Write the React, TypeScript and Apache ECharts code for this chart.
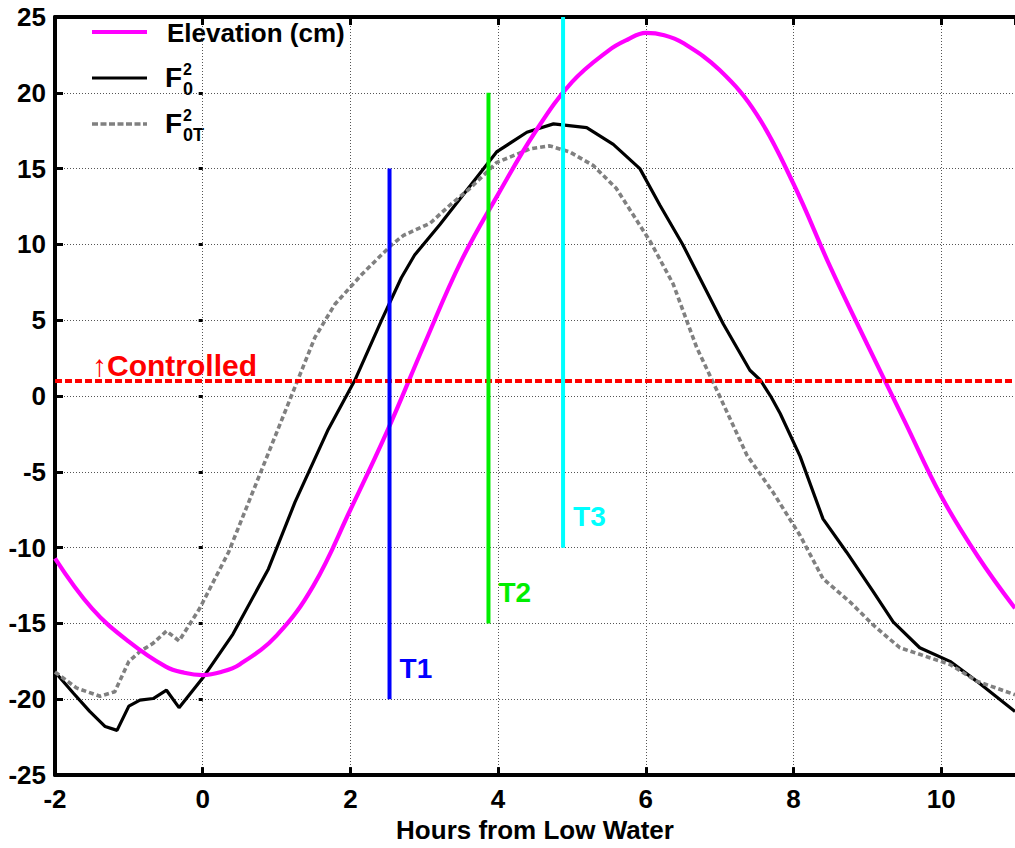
import React, { useEffect, useRef } from "react";
import * as echarts from "echarts";

// ---- Data ----
const xTicks = [-2, 0, 2, 4, 6, 8, 10];
const yTicks = [-25, -20, -15, -10, -5, 0, 5, 10, 15, 20, 25];

const elevX = [-2, -1.5, -1, -0.5, -0.25, 0, 0.25, 0.5, 1, 1.5, 2, 2.5, 3, 3.5, 4, 4.5, 5, 5.5, 5.75, 6, 6.25, 6.5, 7, 7.5, 8, 8.5, 9, 9.5, 10, 10.5, 11];
const elevY = [-10.7, -14.0, -16.2, -17.85, -18.25, -18.4, -18.2, -17.7, -15.8, -12.5, -7.5, -2.3, 3.4, 8.9, 13.3, 17.4, 20.7, 22.8, 23.5, 23.95, 23.8, 23.3, 21.5, 18.6, 14.0, 8.5, 3.4, -1.6, -6.6, -10.6, -14.0];

const f0X = [-2, -1.75, -1.53, -1.32, -1.16, -1.0, -0.85, -0.67, -0.49, -0.32, 0, 0.41, 0.89, 1.25, 1.7, 2.06, 2.42, 2.69, 2.87, 3.21, 3.53, 3.98, 4.39, 4.75, 5.2, 5.56, 5.92, 6.19, 6.5, 6.73, 7.05, 7.41, 7.55, 7.69, 7.82, 8.09, 8.4, 8.72, 9.08, 9.35, 9.71, 10.12, 10.48, 11];
const f0Y = [-18.2, -19.6, -20.8, -21.8, -22.05, -20.45, -20.06, -19.95, -19.4, -20.55, -18.6, -15.7, -11.4, -7.0, -2.2, 1.04, 4.97, 7.8, 9.3, 11.3, 13.3, 16.1, 17.4, 17.95, 17.7, 16.6, 15.0, 12.6, 10.0, 7.8, 4.75, 1.7, 1.06, 0, -1.15, -3.98, -8.1, -10.3, -12.9, -14.9, -16.6, -17.5, -18.8, -20.8];

const f0tX = [-2, -1.71, -1.39, -1.19, -1.0, -0.85, -0.67, -0.49, -0.32, -0.04, 0.35, 0.8, 1.25, 1.52, 1.79, 2.15, 2.56, 2.72, 3.08, 3.35, 3.62, 3.98, 4.43, 4.7, 4.97, 5.29, 5.6, 6.06, 6.37, 6.69, 7.0, 7.37, 7.73, 8.09, 8.4, 8.77, 9.08, 9.44, 10.12, 10.48, 11];
const f0tY = [-18.2, -19.25, -19.8, -19.5, -17.5, -16.85, -16.3, -15.5, -16.15, -14.0, -10.3, -4.85, 0.6, 3.87, 6.05, 8.0, 9.98, 10.6, 11.4, 12.6, 13.7, 15.4, 16.3, 16.5, 16.1, 15.2, 13.7, 10.2, 7.4, 3.2, 0, -3.9, -6.4, -9.2, -12.05, -13.6, -15.1, -16.6, -17.7, -18.8, -19.7];

const controlledLevel = 1;
const controlledX = [-2, 11];

const markerNames = ["T1", "T2", "T3"];
const markerX = [2.53, 3.87, 4.88];
const markerTop = [15, 20, 25];
const markerBottom = [-20, -15, -10];
const markerColors = ["#0000ff", "#00ee00", "#00ffff"];

const FONT = "'Liberation Sans', Arial, Helvetica, sans-serif";

function zip(xs: number[], ys: number[]) {
  return xs.map((x, i) => [x, ys[i]]);
}

export default function App() {
  const ref = useRef<HTMLDivElement>(null);

  useEffect(() => {
    if (!ref.current) return;
    const chart = echarts.init(ref.current, null, { renderer: "svg" });

    const markerSeries = markerNames.map((name, i) => ({
      name,
      type: "line",
      z: 5,
      symbol: "circle",
      symbolSize: 0,
      showSymbol: true,
      lineStyle: { color: markerColors[i], width: 4 },
      itemStyle: { color: markerColors[i] },
      data: [
        { value: [markerX[i], markerTop[i]] },
        {
          value: [markerX[i], markerBottom[i]],
          label: {
            show: true,
            formatter: name,
            position: "right",
            distance: 5,
            offset: [5, -31],
            color: markerColors[i],
            fontFamily: FONT,
            fontWeight: "bold",
            fontSize: 28,
          },
        },
      ],
    }));

    const option: any = {
      animation: false,
      textStyle: { fontFamily: FONT },
      grid: { left: 55, right: 0, top: 17, bottom: 67, containLabel: false },
      xAxis: [
        {
          type: "value",
          min: -2,
          max: 11,
          interval: 2,
          name: "Hours from Low Water",
          nameLocation: "middle",
          nameGap: 39,
          nameTextStyle: { fontFamily: FONT, fontWeight: "bold", fontSize: 26, color: "#000" },
          axisLine: { show: true, onZero: false, lineStyle: { color: "#000", width: 4 } },
          axisTick: { show: true, inside: true, length: 8, lineStyle: { color: "#000", width: 3 } },
          axisLabel: {
            show: true,
            margin: 11,
            fontFamily: FONT,
            fontWeight: "bold",
            fontSize: 26,
            color: "#000",
            showMaxLabel: false,
            formatter: (v: number) => (xTicks.indexOf(v) >= 0 ? String(v) : ""),
          },
          splitLine: { show: true, lineStyle: { color: "#555", width: 1, type: [1, 2] } },
        },
        {
          type: "value",
          position: "top",
          min: -2,
          max: 11,
          interval: 2,
          axisLine: { show: true, onZero: false, lineStyle: { color: "#000", width: 4 } },
          axisTick: { show: true, inside: true, length: 8, lineStyle: { color: "#000", width: 3 } },
          axisLabel: { show: false },
          splitLine: { show: false },
        },
      ],
      yAxis: [
        {
          type: "value",
          min: -25,
          max: 25,
          interval: 5,
          axisLine: { show: true, onZero: false, lineStyle: { color: "#000", width: 4 } },
          axisTick: { show: true, inside: true, length: 8, lineStyle: { color: "#000", width: 3 } },
          axisLabel: {
            show: true,
            margin: 9,
            fontFamily: FONT,
            fontWeight: "bold",
            fontSize: 26,
            color: "#000",
            formatter: (v: number) => (yTicks.indexOf(v) >= 0 ? String(v) : ""),
          },
          splitLine: { show: true, lineStyle: { color: "#555", width: 1, type: [1, 2] } },
        },
        {
          type: "value",
          position: "right",
          min: -25,
          max: 25,
          interval: 5,
          axisLine: { show: false },
          axisTick: { show: true, inside: true, length: 4, lineStyle: { color: "#000", width: 3 } },
          axisLabel: { show: false },
          splitLine: { show: false },
        },
      ],
      series: [
        {
          name: "F0^2",
          type: "line",
          z: 3,
          symbol: "none",
          lineStyle: { color: "#000", width: 3.2 },
          data: zip(f0X, f0Y),
        },
        {
          name: "F0T^2",
          type: "line",
          z: 3,
          symbol: "none",
          lineStyle: { color: "#808080", width: 3.6, type: [5, 3] },
          data: zip(f0tX, f0tY),
        },
        {
          name: "Elevation (cm)",
          type: "line",
          z: 3,
          symbol: "none",
          smooth: 0.4,
          lineStyle: { color: "#ff00ff", width: 4.2 },
          data: zip(elevX, elevY),
        },
        {
          name: "Controlled",
          type: "line",
          z: 4,
          symbol: "circle",
          symbolSize: 0,
          showSymbol: true,
          lineStyle: { color: "#ff0000", width: 4, type: [7, 3] },
          itemStyle: { color: "#ff0000" },
          data: [
            {
              value: [controlledX[0], controlledLevel],
              label: {
                show: true,
                formatter: "\u2191Controlled",
                position: "right",
                distance: 5,
                offset: [32, -15],
                color: "#ff0000",
                fontFamily: FONT,
                fontWeight: "bold",
                fontSize: 30,
              },
            },
            { value: [controlledX[1], controlledLevel] },
          ],
        },
        ...markerSeries,
      ],
      graphic: [
        { type: "line", shape: { x1: 92, y1: 32, x2: 147, y2: 32 }, style: { stroke: "#ff00ff", lineWidth: 4 } },
        {
          type: "text",
          x: 167,
          y: 33,
          style: { text: "Elevation (cm)", font: `bold 26px ${FONT}`, fill: "#000", verticalAlign: "middle" },
        },
        { type: "line", shape: { x1: 92, y1: 78, x2: 147, y2: 78 }, style: { stroke: "#000", lineWidth: 3.2 } },
        { type: "text", x: 165, y: 77, style: { text: "F", font: `bold 28px ${FONT}`, fill: "#000", verticalAlign: "middle" } },
        { type: "text", x: 183, y: 69.5, style: { text: "2", font: `bold 16px ${FONT}`, fill: "#000", verticalAlign: "middle" } },
        { type: "text", x: 183, y: 89, style: { text: "0", font: `bold 18px ${FONT}`, fill: "#000", verticalAlign: "middle" } },
        {
          type: "line",
          shape: { x1: 92, y1: 124, x2: 147, y2: 124 },
          style: { stroke: "#808080", lineWidth: 3.6, lineDash: [6, 2.5] },
        },
        { type: "text", x: 165, y: 123, style: { text: "F", font: `bold 28px ${FONT}`, fill: "#000", verticalAlign: "middle" } },
        { type: "text", x: 183, y: 115, style: { text: "2", font: `bold 16px ${FONT}`, fill: "#000", verticalAlign: "middle" } },
        { type: "text", x: 183, y: 134.5, style: { text: "0T", font: `bold 18px ${FONT}`, fill: "#000", verticalAlign: "middle" } },
      ],
    };

    chart.setOption(option);
    return () => chart.dispose();
  }, []);

  return (
    <div
      ref={ref}
      style={{ position: "fixed", left: 0, top: 0, width: 1015, height: 848, background: "#fff" }}
    />
  );
}
